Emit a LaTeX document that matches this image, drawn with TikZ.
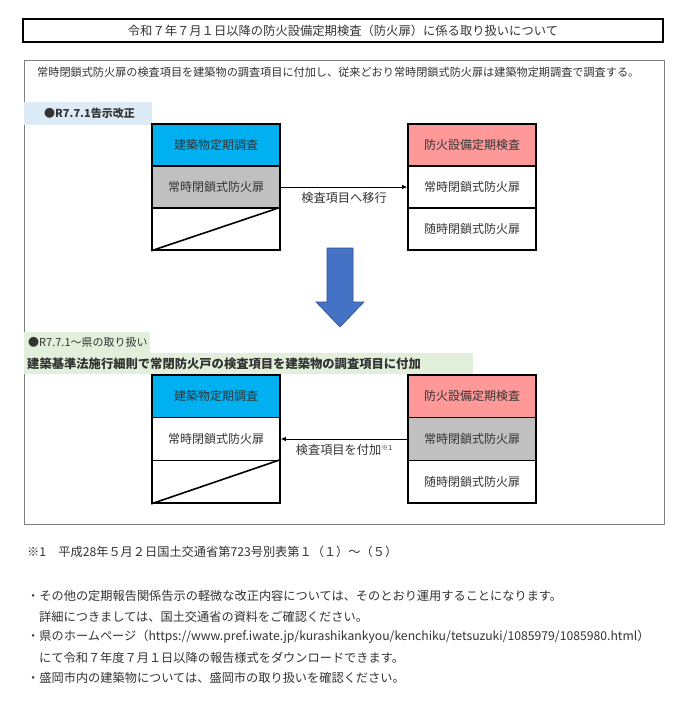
\documentclass[tikz,border=0pt]{standalone}
\usepackage{fontspec}
\setmainfont{Noto Sans CJK JP}
\usetikzlibrary{arrows.meta}
\definecolor{hdrblue}{HTML}{00B0F0}
\definecolor{hdrpink}{HTML}{FF9999}
\definecolor{rowgray}{HTML}{C0C0C0}
\definecolor{lblblue}{HTML}{DDEBF7}
\definecolor{lblgreen}{HTML}{E2EFDA}
\definecolor{arrblue}{HTML}{4472C4}
\definecolor{arredge}{HTML}{2F528F}
\definecolor{txt}{HTML}{333333}
\definecolor{framegray}{HTML}{808080}
\begin{document}
\begin{tikzpicture}[x=1pt,y=-1pt,
  every node/.style={text=txt, inner sep=0pt},
  rowbox/.style={draw=black, line width=1.6pt, minimum width=128pt, minimum height=42pt,
    font=\fontsize{12}{14}\selectfont},
  rowtall/.style={rowbox, minimum height=42.7pt},
  conn/.style={line width=0.8pt, black, -{Latex[length=5pt,width=4.5pt]}},
  body/.style={anchor=west, font=\fontsize{12.2}{14}\selectfont},
  small/.style={anchor=west, font=\fontsize{11}{13}\selectfont}
]
\useasboundingbox[fill=white] (0,0) rectangle (687,706);

% title
\node[draw=black, line width=2pt, minimum width=640pt, minimum height=23pt,
  font=\fontsize{12.3}{14}\selectfont] (title) at (343,30.5)
  {令和７年７月１日以降の防火設備定期検査（防火扉）に係る取り扱いについて};

% main frame
\draw[framegray, line width=1pt] (24,61) rectangle (664,524);

\node[small, font=\fontsize{11.15}{13}\selectfont] (intro) at (37,72)
  {常時閉鎖式防火扉の検査項目を建築物の調査項目に付加し、従来どおり常時閉鎖式防火扉は建築物定期調査で調査する。};

% section 1 label
\fill[lblblue] (24,102) rectangle (152,125);
\node[small, font=\fontsize{11}{13}\selectfont\bfseries] (sec1) at (44,113.5) {●R7.7.1告示改正};

% upper left box
\node[rowbox, fill=hdrblue] (ul1) at (216,145) {建築物定期調査};
\node[rowbox, fill=rowgray] (ul2) at (216,187) {常時閉鎖式防火扉};
\node[rowbox, fill=white] (ul3) at (216,229) {};
\draw[line width=1.6pt] (ul3.south west) -- (ul3.north east);

% upper right box
\node[rowbox, fill=hdrpink] (ur1) at (472,145) {防火設備定期検査};
\node[rowbox, fill=white] (ur2) at (472,187) {常時閉鎖式防火扉};
\node[rowbox, fill=white] (ur3) at (472,229) {随時閉鎖式防火扉};

\draw[conn] (ul2.east) -- (ur2.west)
  node[midway, below=5pt, font=\fontsize{12.2}{14}\selectfont] (lab1) {検査項目へ移行};

% big down arrow
\draw[fill=arrblue, draw=arredge, line width=0.6pt]
  (327,248) -- (353,248) -- (353,302) -- (364,302) -- (340,327) -- (316,302) -- (327,302) -- cycle;

% section 2 labels
\fill[lblgreen] (24,332) rectangle (150,353);
\fill[lblgreen] (24,353) rectangle (473,374);
\node[small] (sec2) at (28,342.5) {●R7.7.1～県の取り扱い};
\node[body, font=\fontsize{12.3}{14}\selectfont\bfseries] (sec2b) at (27,363.5)
  {建築基準法施行細則で常閉防火戸の検査項目を建築物の調査項目に付加};

% lower left box
\node[rowtall, fill=hdrblue] (ll1) at (216,396.3) {建築物定期調査};
\node[rowtall, fill=white] (ll2) at (216,439) {常時閉鎖式防火扉};
\node[rowtall, fill=white] (ll3) at (216,481.7) {};
\draw[line width=1.6pt] (ll3.south west) -- (ll3.north east);

% lower right box
\node[rowtall, fill=hdrpink] (lr1) at (472,396.3) {防火設備定期検査};
\node[rowtall, fill=rowgray] (lr2) at (472,439) {常時閉鎖式防火扉};
\node[rowtall, fill=white] (lr3) at (472,481.7) {随時閉鎖式防火扉};

\draw[conn] (lr2.west) -- (ll2.east)
  node[midway, below=5pt, font=\fontsize{12.2}{14}\selectfont] (lab2)
  {検査項目を付加\raisebox{4pt}{\fontsize{7}{8}\selectfont ※1}};

% notes
\node[body] (fn1) at (27,552) {※1　平成28年５月２日国土交通省第723号別表第１（１）～（５）};
\node[body] (nb1) at (27,596) {・その他の定期報告関係告示の軽微な改正内容については、そのとおり運用することになります。};
\node[body] (nb2) at (39,616.5) {詳細につきましては、国土交通省の資料をご確認ください。};
\node[body] (nb3) at (27,637) {・県のホームページ（https://www.pref.iwate.jp/kurashikankyou/kenchiku/tetsuzuki/1085979/1085980.html）};
\node[body] (nb4) at (39,657.5) {にて令和７年度７月１日以降の報告様式をダウンロードできます。};
\node[body] (nb5) at (27,678) {・盛岡市内の建築物については、盛岡市の取り扱いを確認ください。};
\end{tikzpicture}
\end{document}
